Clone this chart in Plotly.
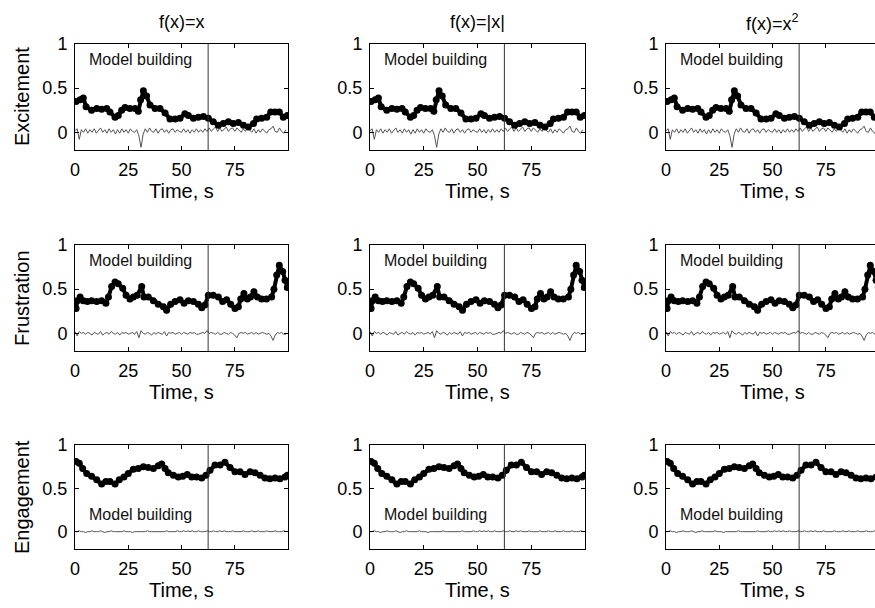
import plotly.graph_objects as go

# ---------------- data ----------------
col_titles = ["f(x)=x", "f(x)=|x|", "f(x)=x<sup>2</sup>"]
row_titles = ["Excitement", "Frustration", "Engagement"]
x_tickvals = [0, 25, 50, 75]
y_tickvals = [0, 0.5, 1]
y_ticktext = ["0", "0.5", "1"]
split_time = 62.5
label_text = "Model building"

exc_t = [0.5, 2.4, 3.9, 5.2, 7.8, 10.2, 12.5, 14.9, 16.4, 18.8, 20.3, 21.9, 23.5, 25.8, 28.2, 29.7,
         30.8, 32.1, 33.6, 35.2, 37.6, 39.9, 42.3, 44.6, 47.0, 49.3, 51.6, 53.2, 55.6, 57.9, 60.3,
         62.6, 64.9, 67.3, 69.6, 72.0, 74.3, 76.7, 79.1, 81.4, 83.8, 85.3, 87.6, 90.0, 91.9, 93.9,
         95.9, 97.8, 99.7]
exc_v = [0.35, 0.37, 0.39, 0.29, 0.25, 0.27, 0.26, 0.27, 0.23, 0.17, 0.19, 0.25, 0.28, 0.27, 0.27,
         0.24, 0.37, 0.47, 0.41, 0.31, 0.27, 0.27, 0.22, 0.15, 0.15, 0.16, 0.21, 0.19, 0.16, 0.17,
         0.18, 0.16, 0.12, 0.08, 0.10, 0.12, 0.10, 0.11, 0.08, 0.06, 0.10, 0.15, 0.16, 0.17, 0.23,
         0.23, 0.23, 0.17, 0.19]
exc_res = [0.02, 0.04, -0.08, 0.03, 0.00, 0.04, -0.01, 0.03, 0.00, 0.04, -0.01, 0.02, 0.05, 0.00,
           0.03, -0.01, 0.04, 0.00, 0.03, -0.02, 0.03, -0.01, 0.04, 0.00, 0.03, -0.01, 0.04, 0.01,
           0.00, 0.03, -0.04, -0.17, -0.02, 0.04, 0.00, 0.05, 0.01, 0.00, 0.04, -0.01, 0.03, 0.04,
           0.00, 0.03, -0.01, 0.03, 0.04, 0.00, 0.03, 0.01, 0.00, 0.04, 0.00, 0.03, -0.01, 0.03,
           0.00, 0.04, 0.00, 0.03, 0.00, 0.04, 0.01, 0.05, 0.01, 0.04, 0.06, 0.01, 0.05, 0.01, 0.04,
           0.06, 0.01, 0.04, 0.05, 0.01, 0.05, 0.02, 0.00, 0.04, 0.01, 0.05, 0.02, 0.00, 0.04,
           -0.01, 0.03, 0.00, 0.04, 0.01, -0.01, 0.03, 0.04, 0.07, 0.01, 0.00, 0.05, 0.01, -0.01,
           0.03]

fru_t = [0.5, 1.1, 2.4, 3.9, 5.8, 7.8, 10.2, 12.5, 14.5, 15.7, 17.2, 18.8, 20.3, 22.4, 24.0, 25.8,
         27.4, 29.2, 31.3, 32.4, 34.4, 36.8, 39.1, 41.5, 43.0, 44.9, 47.0, 49.3, 51.2, 53.2, 55.6,
         57.9, 59.5, 61.0, 62.6, 64.9, 67.3, 69.3, 71.2, 73.1, 75.1, 76.7, 77.8, 79.3, 80.9, 82.4,
         84.0, 85.6, 87.6, 89.9, 92.3, 93.4, 94.7, 95.9, 97.5, 98.6, 99.7]
fru_v = [0.28, 0.37, 0.41, 0.37, 0.36, 0.37, 0.36, 0.37, 0.34, 0.41, 0.53, 0.58, 0.56, 0.51, 0.43,
         0.39, 0.41, 0.43, 0.53, 0.41, 0.41, 0.37, 0.33, 0.30, 0.26, 0.33, 0.36, 0.38, 0.34, 0.37,
         0.36, 0.33, 0.29, 0.32, 0.43, 0.43, 0.41, 0.36, 0.38, 0.33, 0.28, 0.30, 0.39, 0.45, 0.39,
         0.41, 0.47, 0.41, 0.39, 0.39, 0.41, 0.50, 0.66, 0.77, 0.70, 0.60, 0.52]
fru_res = [0.02, -0.03, 0.02, 0.00, 0.01, -0.01, 0.01, 0.00, -0.02, 0.01, 0.00, -0.01, 0.02, -0.02,
           0.00, 0.01, -0.01, 0.02, 0.00, -0.01, 0.01, -0.02, 0.01, 0.00, 0.01, -0.01, 0.00, 0.01,
           -0.01, 0.02, -0.05, 0.03, 0.00, -0.01, 0.01, 0.00, -0.02, 0.01, -0.01, 0.01, 0.00, -0.01,
           0.02, -0.03, 0.01, 0.00, 0.01, -0.01, 0.00, 0.01, -0.01, 0.01, 0.00, -0.01, 0.01, 0.00,
           0.01, -0.01, -0.01, 0.00, 0.01, 0.00, 0.03, 0.00, 0.01, 0.00, -0.01, 0.01, -0.01, -0.01,
           0.01, 0.00, -0.01, 0.01, 0.00, -0.02, -0.05, 0.00, 0.01, 0.00, 0.01, -0.01, 0.00, 0.01,
           -0.01, 0.01, -0.01, 0.00, 0.01, 0.00, -0.01, 0.00, -0.03, -0.08, -0.02, 0.01, 0.00, 0.01,
           -0.01, -0.01]

eng_t = [0.5, 2.0, 3.6, 5.5, 7.8, 10.2, 12.5, 14.5, 16.4, 18.8, 20.8, 23.0, 25.0, 27.4, 29.7, 32.1,
         34.4, 36.8, 39.1, 40.7, 42.3, 43.8, 46.2, 48.5, 50.6, 52.7, 54.8, 57.1, 59.5, 61.5, 63.4,
         65.7, 68.1, 70.4, 72.8, 75.1, 77.5, 79.8, 82.2, 84.5, 86.9, 89.2, 91.5, 93.9, 96.2, 98.6,
         99.7]
eng_v = [0.81, 0.79, 0.73, 0.67, 0.64, 0.60, 0.55, 0.58, 0.58, 0.55, 0.60, 0.63, 0.67, 0.72, 0.73,
         0.75, 0.74, 0.73, 0.76, 0.78, 0.73, 0.68, 0.65, 0.63, 0.64, 0.66, 0.63, 0.63, 0.62, 0.65,
         0.71, 0.77, 0.77, 0.80, 0.74, 0.69, 0.69, 0.66, 0.69, 0.68, 0.65, 0.62, 0.61, 0.62, 0.61,
         0.63, 0.65]
eng_res = [0.00, 0.00, 0.01, 0.00, 0.00, -0.01, 0.00, 0.00, 0.01, 0.00, 0.00, 0.00, 0.01, 0.00,
           -0.01, 0.00, 0.00, 0.01, 0.00, 0.00, 0.00, 0.00, 0.00, 0.01, 0.00, 0.00, 0.00, -0.01,
           0.00, 0.00, 0.00, 0.00, 0.00, 0.00, 0.01, 0.00, 0.00, 0.00, 0.00, 0.00, 0.00, 0.00,
           0.00, 0.01, 0.00, 0.00, 0.00, 0.00, 0.01, 0.00, 0.00, 0.01, 0.00, 0.01, 0.00, 0.01,
           0.00, 0.00, 0.01, 0.00, 0.00, 0.00, 0.01, 0.00, 0.00, 0.01, 0.00, 0.00, 0.01, 0.00,
           0.01, 0.00, 0.00, 0.00, 0.01, 0.00, 0.00, 0.00, 0.00, 0.01, 0.00, 0.00, 0.00, 0.01,
           0.00, 0.00, 0.01, 0.00, 0.00, 0.00, 0.01, 0.00, 0.00, 0.00, 0.01, 0.00, 0.00, 0.00,
           0.01, 0.00]

rows = [(exc_t, exc_v, exc_res, 0.82),
        (fru_t, fru_v, fru_res, 0.82),
        (eng_t, eng_v, eng_res, 0.2)]

# ---------------- layout geometry (pixels) ----------------
W, H = 875, 608
col_px = [(75, 288), (370, 585), (666, 875)]
col_full_right = 879          # third panel extends past the window edge
row_px = [(44, 150), (245, 351), (445, 549)]
FONT = "Liberation Sans, Arial, sans-serif"

fig = go.Figure()
layout = dict(width=W, height=H, margin=dict(l=0, r=0, t=0, b=0, autoexpand=False),
              paper_bgcolor="white", plot_bgcolor="white", showlegend=False,
              font=dict(family=FONT, color="black"))
annotations = []
shapes = []

for r, (tt, vv, res, label_y) in enumerate(rows):
    for c in range(3):
        k = r * 3 + c + 1
        xa = "x" if k == 1 else f"x{k}"
        ya = "y" if k == 1 else f"y{k}"
        x0, x1 = col_px[c]
        y0, y1 = row_px[r]
        xmax = 100 if c < 2 else 100 * (x1 - x0) / (col_full_right - x0)
        common = dict(showline=True, linecolor="black", linewidth=1, ticks="inside",
                      ticklen=4, tickcolor="black", showgrid=False, zeroline=False,
                      tickfont=dict(size=18, family=FONT, color="black"))
        layout["xaxis" if k == 1 else f"xaxis{k}"] = dict(
            domain=[x0 / W, x1 / W], range=[0, xmax], anchor=ya,
            tickvals=x_tickvals, mirror="ticks", ticklabelstandoff=3, **common)
        layout["yaxis" if k == 1 else f"yaxis{k}"] = dict(
            domain=[1 - y1 / H, 1 - y0 / H], range=[-0.2, 1], anchor=xa,
            tickvals=y_tickvals, ticktext=y_ticktext,
            mirror=("ticks" if c < 2 else False), ticklabelstandoff=3, **common)

        fig.add_trace(go.Scatter(x=list(range(len(res))), y=res, xaxis=xa, yaxis=ya,
                                 mode="lines", line=dict(color="#555555", width=1),
                                 hoverinfo="skip"))
        fig.add_trace(go.Scatter(x=tt, y=vv, xaxis=xa, yaxis=ya, mode="lines+markers",
                                 line=dict(color="black", width=4),
                                 marker=dict(color="black", size=7)))
        shapes.append(dict(type="line", xref=xa, yref=f"{ya} domain", x0=split_time,
                           x1=split_time, y0=0, y1=1,
                           line=dict(color="#333333", width=1)))
        annotations.append(dict(xref=xa, yref=ya, x=5.5, y=label_y, xanchor="left",
                                yanchor="middle", text=label_text, showarrow=False,
                                font=dict(size=16, family=FONT, color="#111111")))
        # x-axis title
        xc = (x0 + (x1 if c < 2 else col_full_right)) / 2
        annotations.append(dict(xref="paper", yref="paper", x=xc / W,
                                y=1 - (y1 + 41) / H, xanchor="center", yanchor="middle",
                                text="Time, s", showarrow=False,
                                font=dict(size=20, family=FONT, color="black")))
        if r == 0:
            annotations.append(dict(xref="paper", yref="paper", x=xc / W, y=1 - 22 / H,
                                    xanchor="center", yanchor="middle", text=col_titles[c],
                                    showarrow=False,
                                    font=dict(size=18, family=FONT, color="black")))
    # row (y) title
    annotations.append(dict(xref="paper", yref="paper", x=22 / W,
                            y=1 - ((row_px[r][0] + row_px[r][1]) / 2) / H,
                            xanchor="center", yanchor="middle", textangle=-90,
                            text=row_titles[r], showarrow=False,
                            font=dict(size=20, family=FONT, color="black")))

layout["annotations"] = annotations
layout["shapes"] = shapes
fig.update_layout(**layout)
fig.write_html("out.html", config={"displayModeBar": False},
               post_script="document.body.style.margin='0';document.body.style.overflow='hidden';")
